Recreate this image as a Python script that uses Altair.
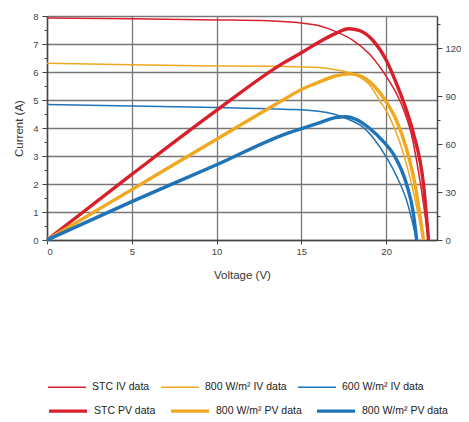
import altair as alt
import pandas as pd

# ---- data ----
iv_keys = ["a", "b", "c"]
pv_keys = ["d", "e", "f"]
iv_labels = ["STC IV data", "800 W/m² IV data", "600 W/m² IV data"]
pv_labels = ["STC PV data", "800 W/m² PV data", "800 W/m² PV data"]
colors = ["#d7202b", "#efa820", "#1f73b7"]
iv_width = 1.5
pv_width = 3.4

stc_iv_v = [0, 5, 10, 13, 15, 16, 17, 18, 19, 20, 20.5, 21, 21.5, 22, 22.5]
stc_iv_i = [7.93, 7.9, 7.86, 7.83, 7.75, 7.66, 7.45, 7.15, 6.65, 5.85, 5.35, 4.7, 3.75, 2.1, 0]

o_iv_v = [0, 5, 10, 14, 16, 17, 18, 19, 19.6, 20.2, 20.8, 21.5, 22.2]
o_iv_i = [6.31, 6.26, 6.21, 6.2, 6.16, 6.08, 5.93, 5.55, 5.0, 4.4, 3.5, 2.0, 0]

b_iv_v = [0, 5, 10, 14, 16, 17, 18, 18.6, 19.3, 20, 20.6, 21.2, 21.8]
b_iv_i = [4.84, 4.79, 4.73, 4.67, 4.6, 4.48, 4.25, 4.05, 3.6, 2.97, 2.3, 1.43, 0]

stc_pv_v = [0, 5, 10, 14, 15, 16, 17, 17.8, 18.4, 19.2, 20, 20.6, 21.2, 21.6, 22.2, 22.5]
stc_pv_p = [0, 41, 81, 111, 117, 123.5, 129, 132, 131, 125, 112.5, 98, 81, 67, 35, 0]

o_pv_v = [0, 5, 10, 14, 15, 16, 17, 17.9, 18.6, 19.4, 20, 20.6, 21.2, 21.7, 22.2]
o_pv_p = [0, 31.5, 63, 88, 94, 98.5, 102.5, 103.8, 102, 95, 86.5, 75, 57, 35, 0]

b_pv_v = [0, 5, 10, 14, 16, 17, 17.6, 18.3, 19, 19.8, 20.5, 21.2, 21.6, 21.8]
b_pv_p = [0, 24, 47, 66, 73, 76.5, 77, 75, 70, 62, 52.5, 35, 17, 0]

x_ticks = [0, 5, 10, 15, 20]
left_ticks = [i * 0.5 for i in range(17)]
right_ticks = [i * 15 for i in range(10)]

FONT = "Liberation Sans"

iv_rows = []
for k, vs, ys in zip(iv_keys, [stc_iv_v, o_iv_v, b_iv_v], [stc_iv_i, o_iv_i, b_iv_i]):
    for v, y in zip(vs, ys):
        iv_rows.append({"key": k, "V": v, "I": y})
pv_rows = []
for k, vs, ys in zip(pv_keys, [stc_pv_v, o_pv_v, b_pv_v], [stc_pv_p, o_pv_p, b_pv_p]):
    for v, y in zip(vs, ys):
        pv_rows.append({"key": k, "V": v, "P": y})
iv_df = pd.DataFrame(iv_rows)
pv_df = pd.DataFrame(pv_rows)


def lab_expr(ks, ls):
    return " : ".join(f"datum.value == '{k}' ? '{l}'" for k, l in zip(ks[:-1], ls[:-1])) + f" : '{ls[-1]}'"


def make_legend(ks, ls, y, w):
    return alt.Legend(
        title=None, orient="none", legendX=0, legendY=y, direction="horizontal",
        symbolType="stroke", symbolSize=1444, symbolStrokeWidth=w,
        labelFont=FONT, labelFontSize=10.5, labelColor="#222",
        labelExpr=lab_expr(ks, ls), columnPadding=8, labelOffset=5, padding=0,
    )


x_enc = alt.X(
    "V:Q", scale=alt.Scale(domain=[0, 23], nice=False),
    axis=alt.Axis(values=x_ticks, grid=True, gridColor="#777", gridWidth=1.3,
                  domainColor="#444", domainWidth=1.5, tickColor="#444", tickSize=4,
                  labelFont=FONT, labelFontSize=9.5, labelColor="#444", labelPadding=2,
                  title="Voltage (V)", titleFont=FONT, titleFontSize=11.5,
                  titleFontWeight="normal", titleColor="#333", titlePadding=14),
)

iv = alt.Chart(iv_df).mark_line(interpolate="monotone", strokeWidth=iv_width).encode(
    x=x_enc,
    y=alt.Y("I:Q", scale=alt.Scale(domain=[0, 8], nice=False),
            axis=alt.Axis(values=left_ticks,
                          labelExpr="datum.value % 1 == 0 ? '' + datum.value : ''",
                          grid=True, gridColor="#777", gridWidth=1.3,
                          gridOpacity={"condition": {"test": "datum.value % 1 != 0", "value": 0}, "value": 1},
                          domainColor="#444", domainWidth=1.5, tickColor="#444",
                          tickSize={"condition": {"test": "datum.value % 1 != 0", "value": 3}, "value": 5},
                          labelFont=FONT, labelFontSize=9.5, labelColor="#444", labelPadding=4,
                          title="Current (A)", titleFont=FONT, titleFontSize=11.5,
                          titleFontWeight="normal", titleColor="#333", titlePadding=8)),
    color=alt.Color("key:N", scale=alt.Scale(domain=iv_keys, range=colors),
                    legend=make_legend(iv_keys, iv_labels, 351, iv_width)),
    order="V:Q",
)

pv = alt.Chart(pv_df).mark_line(interpolate="monotone", strokeWidth=pv_width).encode(
    x=x_enc,
    y=alt.Y("P:Q", scale=alt.Scale(domain=[0, 140], nice=False),
            axis=alt.Axis(orient="right", values=right_ticks,
                          labelExpr="datum.value % 30 == 0 ? '' + datum.value : ''",
                          grid=False, domainColor="#444", domainWidth=1.5, tickColor="#444",
                          tickSize={"condition": {"test": "datum.value % 30 != 0", "value": 3}, "value": 5},
                          labelFont=FONT, labelFontSize=9.5, labelColor="#444", labelPadding=3,
                          title="Power (W)", titleFont=FONT, titleFontSize=11.5,
                          titleFontWeight="normal", titleColor="#333", titlePadding=6)),
    stroke=alt.Stroke("key:N", scale=alt.Scale(domain=pv_keys, range=colors),
                      legend=make_legend(pv_keys, pv_labels, 374, pv_width)),
    order="V:Q",
)

chart = alt.layer(iv, pv).resolve_scale(y="independent").properties(
    width=390, height=224,
    autosize="none",
    padding={"left": 39, "top": 8, "right": 24, "bottom": 182},
).configure_view(strokeWidth=0)

chart.save("out.html", embed_options={"renderer": "svg", "actions": False})
